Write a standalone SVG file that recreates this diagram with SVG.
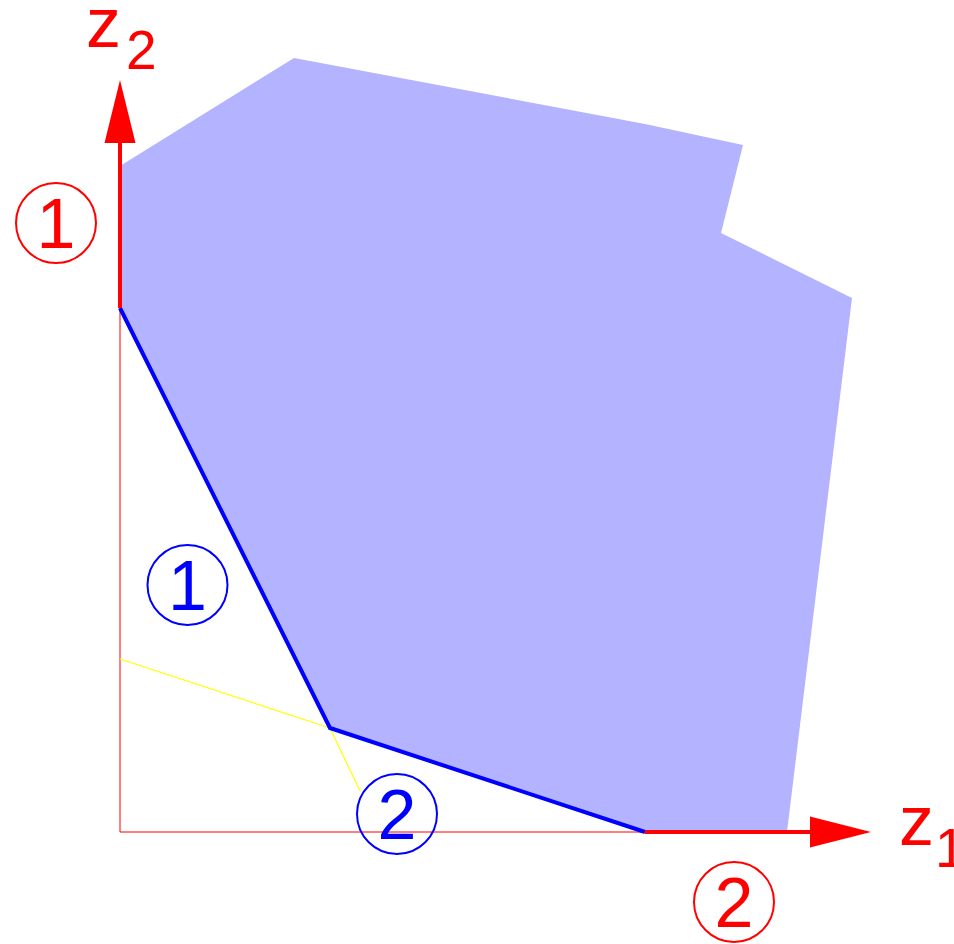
<svg xmlns="http://www.w3.org/2000/svg" width="954" height="944" viewBox="0 0 954 944">
<style>
.lbl{font-family:"Liberation Sans",Arial,sans-serif;font-size:70px;text-anchor:middle}
.sub{font-size:55px;text-anchor:start}
.red{fill:#ff0000}
.blue{fill:#0000ff}
.circ{fill:none;stroke-width:2}
</style>
<g id="region">
<polygon points="120,166 294,58 645,124 743,145 721,233 852,298 787,832 645,832 330,728 120,308" fill="#b3b3ff"/>
</g>
<g id="connectors">
<line x1="120" y1="308" x2="120" y2="832" stroke="#ff0000" stroke-width="1"/>
<line x1="120" y1="832" x2="645" y2="832" stroke="#ff0000" stroke-width="1"/>
<line x1="120" y1="659" x2="330" y2="728" stroke="#ffff00" stroke-width="1.2"/>
<line x1="330" y1="728" x2="360" y2="791" stroke="#ffff00" stroke-width="1.2"/>
<polyline points="120,308 330,728 645,832" fill="none" stroke="#0000ff" stroke-width="4"/>
<line x1="120" y1="308" x2="120" y2="140" stroke="#ff0000" stroke-width="4"/>
<polygon points="120,80 104.5,143 135.5,143" fill="#ff0000"/>
<line x1="645" y1="832" x2="812" y2="832" stroke="#ff0000" stroke-width="4"/>
<polygon points="871,832 810,816.5 810,847.5" fill="#ff0000"/>
</g>
<g id="axis-z2">
<text class="lbl red" x="103.5" y="47">z</text>
<text class="lbl sub red" x="126" y="69">2</text>
</g>
<g id="axis-z1">
<text class="lbl red" x="916.5" y="845">z</text>
<text class="lbl sub red" x="935" y="867">1</text>
</g>
<g id="red-1">
<circle class="circ" cx="56" cy="223" r="40" stroke="#ff0000"/>
<text class="lbl red" x="56" y="248">1</text>
</g>
<g id="red-2">
<circle class="circ" cx="734" cy="902" r="40" stroke="#ff0000"/>
<text class="lbl red" x="734" y="927">2</text>
</g>
<g id="blue-1">
<circle class="circ" cx="187.5" cy="585" r="40" stroke="#0000ff"/>
<text class="lbl blue" x="187.5" y="610">1</text>
</g>
<g id="blue-2">
<circle class="circ" cx="397" cy="814" r="40" stroke="#0000ff"/>
<text class="lbl blue" x="397" y="839">2</text>
</g>
</svg>
